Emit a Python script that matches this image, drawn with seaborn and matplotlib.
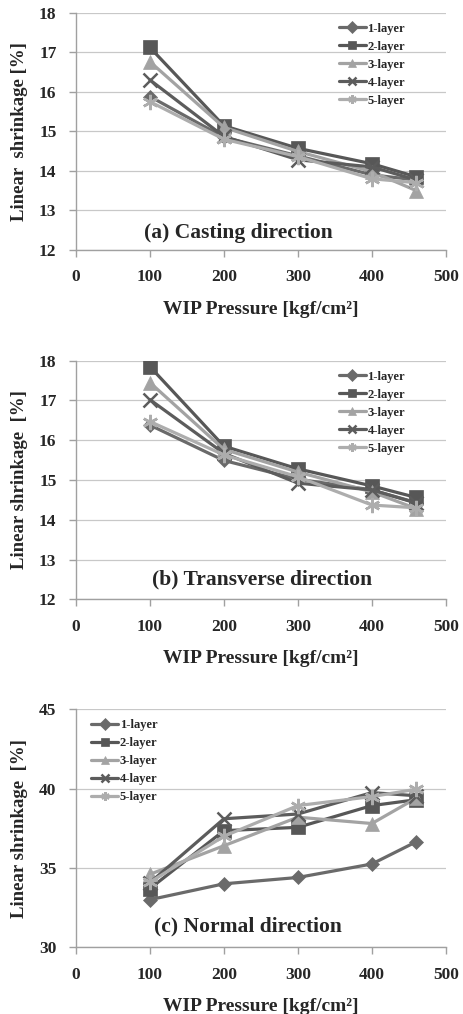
import matplotlib
matplotlib.use("Agg")
import matplotlib.pyplot as plt
import seaborn as sns
import pandas as pd

# data
pressure = [100, 200, 300, 400, 460]
layers = ["1-layer", "2-layer", "3-layer", "4-layer", "5-layer"]

casting = {
    "1-layer": [15.88, 14.85, 14.38, 13.90, 13.77],
    "2-layer": [17.12, 15.14, 14.57, 14.18, 13.85],
    "3-layer": [16.76, 15.10, 14.49, 13.98, 13.50],
    "4-layer": [16.30, 14.87, 14.28, 14.10, 13.77],
    "5-layer": [15.75, 14.80, 14.36, 13.80, 13.70],
}
transverse = {
    "1-layer": [16.38, 15.49, 15.02, 14.75, 14.43],
    "2-layer": [17.85, 15.85, 15.28, 14.85, 14.56],
    "3-layer": [17.45, 15.77, 15.20, 14.70, 14.28],
    "4-layer": [17.02, 15.67, 14.92, 14.75, 14.42],
    "5-layer": [16.47, 15.63, 15.08, 14.37, 14.30],
}
normal = {
    "1-layer": [33.0, 34.0, 34.4, 35.25, 36.65],
    "2-layer": [33.7, 37.35, 37.56, 38.93, 39.3],
    "3-layer": [34.6, 36.4, 38.2, 37.8, 39.4],
    "4-layer": [34.07, 38.1, 38.4, 39.75, 39.55],
    "5-layer": [34.1, 37.0, 38.93, 39.5, 39.96],
}

panels = [
    (casting, (12, 18), 1, "(a) Casting direction", (219, 12.43), "Linear  shrinkage [%]", "upper right"),
    (transverse, (12, 18), 1, "(b) Transverse direction", (251, 12.49), "Linear shrinkage  [%]", "upper right"),
    (normal, (30, 45), 5, "(c) Normal direction", (232, 31.3), "Linear shrinkage  [%]", "upper left"),
]

palette = {"1-layer": "#6a6a6a", "2-layer": "#575757", "3-layer": "#a3a3a3",
           "4-layer": "#5c5c5c", "5-layer": "#adadad"}
markers = {"1-layer": "D", "2-layer": "s", "3-layer": "^", "4-layer": "x", "5-layer": (6, 2, 0)}
msize = {"1-layer": 7.5, "2-layer": 10, "3-layer": 10, "4-layer": 10, "5-layer": 11}

sns.set_style("white")
plt.rcParams["font.family"] = ["Liberation Serif", "DejaVu Serif"]
plt.rcParams["font.weight"] = "bold"

fig = plt.figure(figsize=(4.63, 10.14), dpi=100)
boxes = [
    [0.164, 0.7535, 0.799, 0.234],
    [0.164, 0.409, 0.799, 0.2353],
    [0.164, 0.0658, 0.799, 0.2347],
]

for box, (vals, ylim, ystep, title, tpos, ylab, legloc) in zip(boxes, panels):
    ax = fig.add_axes(box)
    rows = []
    for lay in layers:
        for p, v in zip(pressure, vals[lay]):
            rows.append({"pressure": p, "shrink": v, "layer": lay})
    df = pd.DataFrame(rows)
    for lay in layers:
        sub = df[df["layer"] == lay]
        sns.lineplot(data=sub, x="pressure", y="shrink", ax=ax, color=palette[lay],
                     marker=markers[lay], markersize=msize[lay], linewidth=2.3,
                     markeredgecolor=palette[lay],
                     markeredgewidth=1.8 if lay in ("4-layer", "5-layer") else 0.5,
                     label=lay)
    ax.set_xlim(0, 500)
    ax.set_ylim(*ylim)
    ax.set_xticks(range(0, 501, 100))
    ax.set_yticks(range(ylim[0], ylim[1] + 1, ystep))
    ax.yaxis.grid(True, color="#c8c8c8", linewidth=0.9)
    ax.xaxis.grid(False)
    for s in ("top", "right"):
        ax.spines[s].set_visible(False)
    for s in ("left", "bottom"):
        ax.spines[s].set_color("#a0a0a0")
        ax.spines[s].set_linewidth(1.0)
    ax.tick_params(axis="both", which="both", direction="out", length=5, width=1.0,
                   color="#a0a0a0", labelsize=12.5)
    ax.tick_params(axis="x", bottom=True, pad=9)
    ax.tick_params(axis="y", left=True, pad=9)
    for t in ax.get_xticklabels() + ax.get_yticklabels():
        t.set_fontweight("bold")
    ax.set_xlabel("WIP Pressure [kgf/cm²]", fontsize=14, fontweight="bold", labelpad=11)
    ax.set_ylabel(ylab, fontsize=13.5, fontweight="bold", labelpad=8)
    ax.text(tpos[0], tpos[1], title, ha="center", va="center", fontsize=15.5, fontweight="bold")
    if legloc == "upper right":
        anchor = (0.91, 0.99)
    else:
        anchor = (0.02, 0.99)
    leg = ax.legend(loc=legloc, bbox_to_anchor=anchor, frameon=False,
                    prop={"size": 9, "weight": "bold"}, handlelength=2.2,
                    labelspacing=0.48, handletextpad=0.1, borderaxespad=0.2)
    for h in leg.legend_handles:
        h.set_markersize(6)

fig.savefig("out.png", dpi=100)
